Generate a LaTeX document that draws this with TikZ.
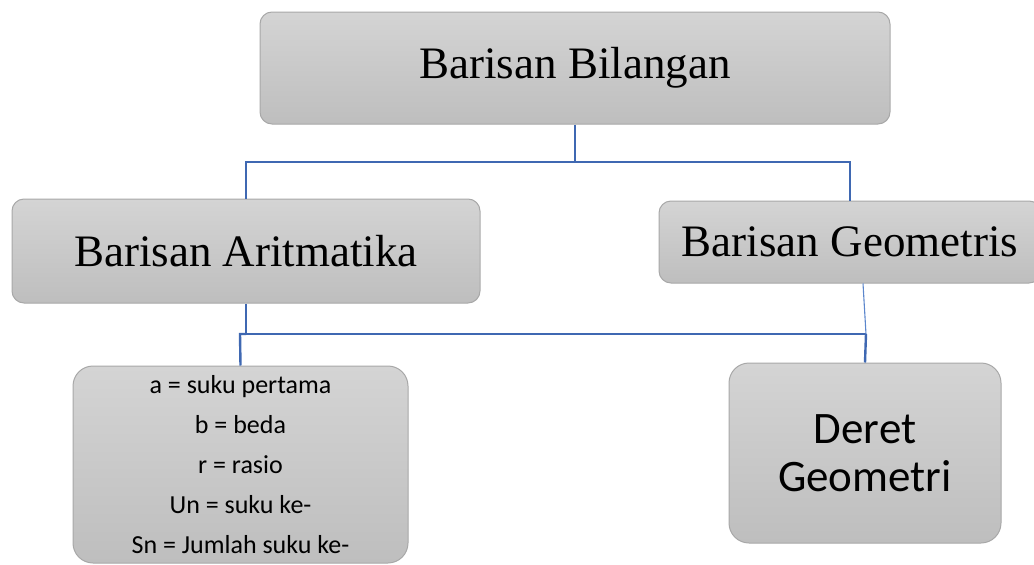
\documentclass[tikz,border=0pt]{standalone}
\usepackage{fontspec}
\setmainfont{Liberation Serif}
\newfontfamily\calib{Carlito}
\definecolor{boxtop}{HTML}{D4D4D4}
\definecolor{boxbot}{HTML}{BEBEBE}
\definecolor{boxline}{HTML}{A8A8A8}
\definecolor{connblue}{HTML}{3F68B2}
\definecolor{thinblue}{HTML}{5B86CC}
\tikzset{
  gbox/.style={draw=boxline, line width=1pt, top color=boxtop, bottom color=boxbot,
    inner sep=0pt, align=center, text=black},
  conn/.style={draw=connblue, line width=2.4pt},
  thinconn/.style={draw=thinblue, line width=1.1pt},
}
\begin{document}
\begin{tikzpicture}[x=1pt,y=-1pt]
\useasboundingbox (0,0) rectangle (1034,565);
\node[gbox, rounded corners=12pt, minimum width=630pt, minimum height=112pt,
  font=\fontsize{45}{48}\selectfont] (top) at (575,68) {Barisan Bilangan};
\node[gbox, rounded corners=12pt, minimum width=468pt, minimum height=104pt,
  font=\fontsize{45}{48}\selectfont] (arit) at (246,251) {Barisan Aritmatika};
\node[gbox, rounded corners=12pt, minimum width=382pt, minimum height=82pt,
  font=\fontsize{45}{48}\selectfont] (geo) at (850,242) {Barisan Geometris};
\node[gbox, rounded corners=20pt, minimum width=335pt, minimum height=197pt,
  font=\calib\fontsize{26}{40}\selectfont] (list) at (240.5,464.5)
  {a = suku pertama\\ b = beda\\ r = rasio\\ Un = suku ke-\\ Sn = Jumlah suku ke-};
\node[gbox, rounded corners=20pt, minimum width=272pt, minimum height=180pt,
  font=\calib\fontsize{45}{48}\selectfont] (deret) at (865,453) {Deret\\ Geometri};
\coordinate (j1) at (575,162);
\coordinate (j2) at (866,334);
\coordinate (j3) at (246,334);
\coordinate (j4) at (240,334);
\draw[conn] (top.south) -- (j1);
\draw[conn] (j1) -| (arit.north);
\draw[conn] (j1) -| (geo.north);
\draw[conn] (arit.south) -- (j3) -- (j2);
\draw[conn] (j3) -- (j4) -- (list.north);
\draw[thinconn] ([xshift=13pt]geo.south) -- (j2);
\draw[conn] (j2) -- (deret.north);
\end{tikzpicture}
\end{document}
